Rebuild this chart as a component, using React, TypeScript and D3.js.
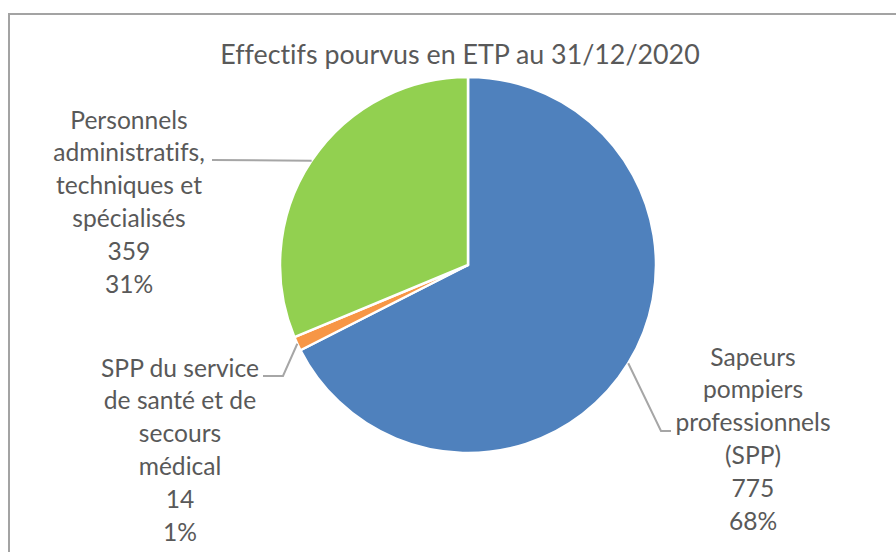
import React from "react";
import * as d3 from "d3";

// data
const categories = [
  "Sapeurs pompiers professionnels (SPP)",
  "SPP du service de santé et de secours médical",
  "Personnels administratifs, techniques et spécialisés",
];
const values = [775, 14, 359];
const labelLines = [
  ["Sapeurs", "pompiers", "professionnels", "(SPP)"],
  ["SPP du service", "de santé et de", "secours", "médical"],
  ["Personnels", "administratifs,", "techniques et", "spécialisés"],
];
const colors = ["#4F81BD", "#F79646", "#92D050"];
const title = "Effectifs pourvus en ETP au 31/12/2020";

// layout of the data labels (leader elbow, leader end, label centre x, first line y)
const labelLayout = [
  { elbow: [661, 431], end: [671, 431], cx: 753, y0: 357 },
  { elbow: [283, 376], end: [263, 376], cx: 180, y0: 368 },
  { elbow: null, end: [212, 160], cx: 129, y0: 120 },
];

const W = 896;
const H = 552;
const cx = 468;
const cy = 265;
const R = 188;
const lineH = 32.8;
const textColor = "#595959";
const font = "Lato, 'Open Sans', sans-serif";

const App = () => {
  const total = d3.sum(values);
  const pct = d3.format(".0%");
  const pie = d3.pie<number>().sort(null).value((d) => d);
  const arcs = pie(values);
  const arc = d3.arc<d3.PieArcDatum<number>>().innerRadius(0).outerRadius(R);
  const edge = d3.arc<d3.PieArcDatum<number>>().innerRadius(R).outerRadius(R);

  return (
    <svg
      width={W}
      height={H}
      style={{ position: "absolute", left: 0, top: 0, background: "#fff", fontVariantLigatures: "none" }}
      fontFamily={font}
    >
      <rect x={9} y={14} width={W + 20} height={H + 20} fill="#fff" stroke="#A3A3A3" strokeWidth={2} />
      <text x={460} y={64} textAnchor="middle" fontSize={26.8} fill={textColor}>
        {title}
      </text>
      <g transform={`translate(${cx},${cy})`}>
        {arcs.map((a, i) => (
          <path key={categories[i]} d={arc(a) || ""} fill={colors[i]} stroke="#fff" strokeWidth={2.5} strokeLinejoin="round" />
        ))}
      </g>
      {arcs.map((a, i) => {
        const [ex, ey] = edge.centroid(a);
        const L = labelLayout[i];
        const pts: [number, number][] = [[cx + ex, cy + ey]];
        if (L.elbow) pts.push(L.elbow as [number, number]);
        pts.push(L.end as [number, number]);
        const lines = [...labelLines[i], String(values[i]), pct(values[i] / total)];
        return (
          <g key={"lab" + i}>
            <path d={d3.line()(pts) || ""} fill="none" stroke="#A6A6A6" strokeWidth={2} />
            <text textAnchor="middle" fontSize={24.6} fill={textColor}>
              {lines.map((t, j) => (
                <tspan key={j} x={L.cx} y={L.y0 + j * lineH + 8.5}>
                  {t}
                </tspan>
              ))}
            </text>
          </g>
        );
      })}
    </svg>
  );
};

export default App;
